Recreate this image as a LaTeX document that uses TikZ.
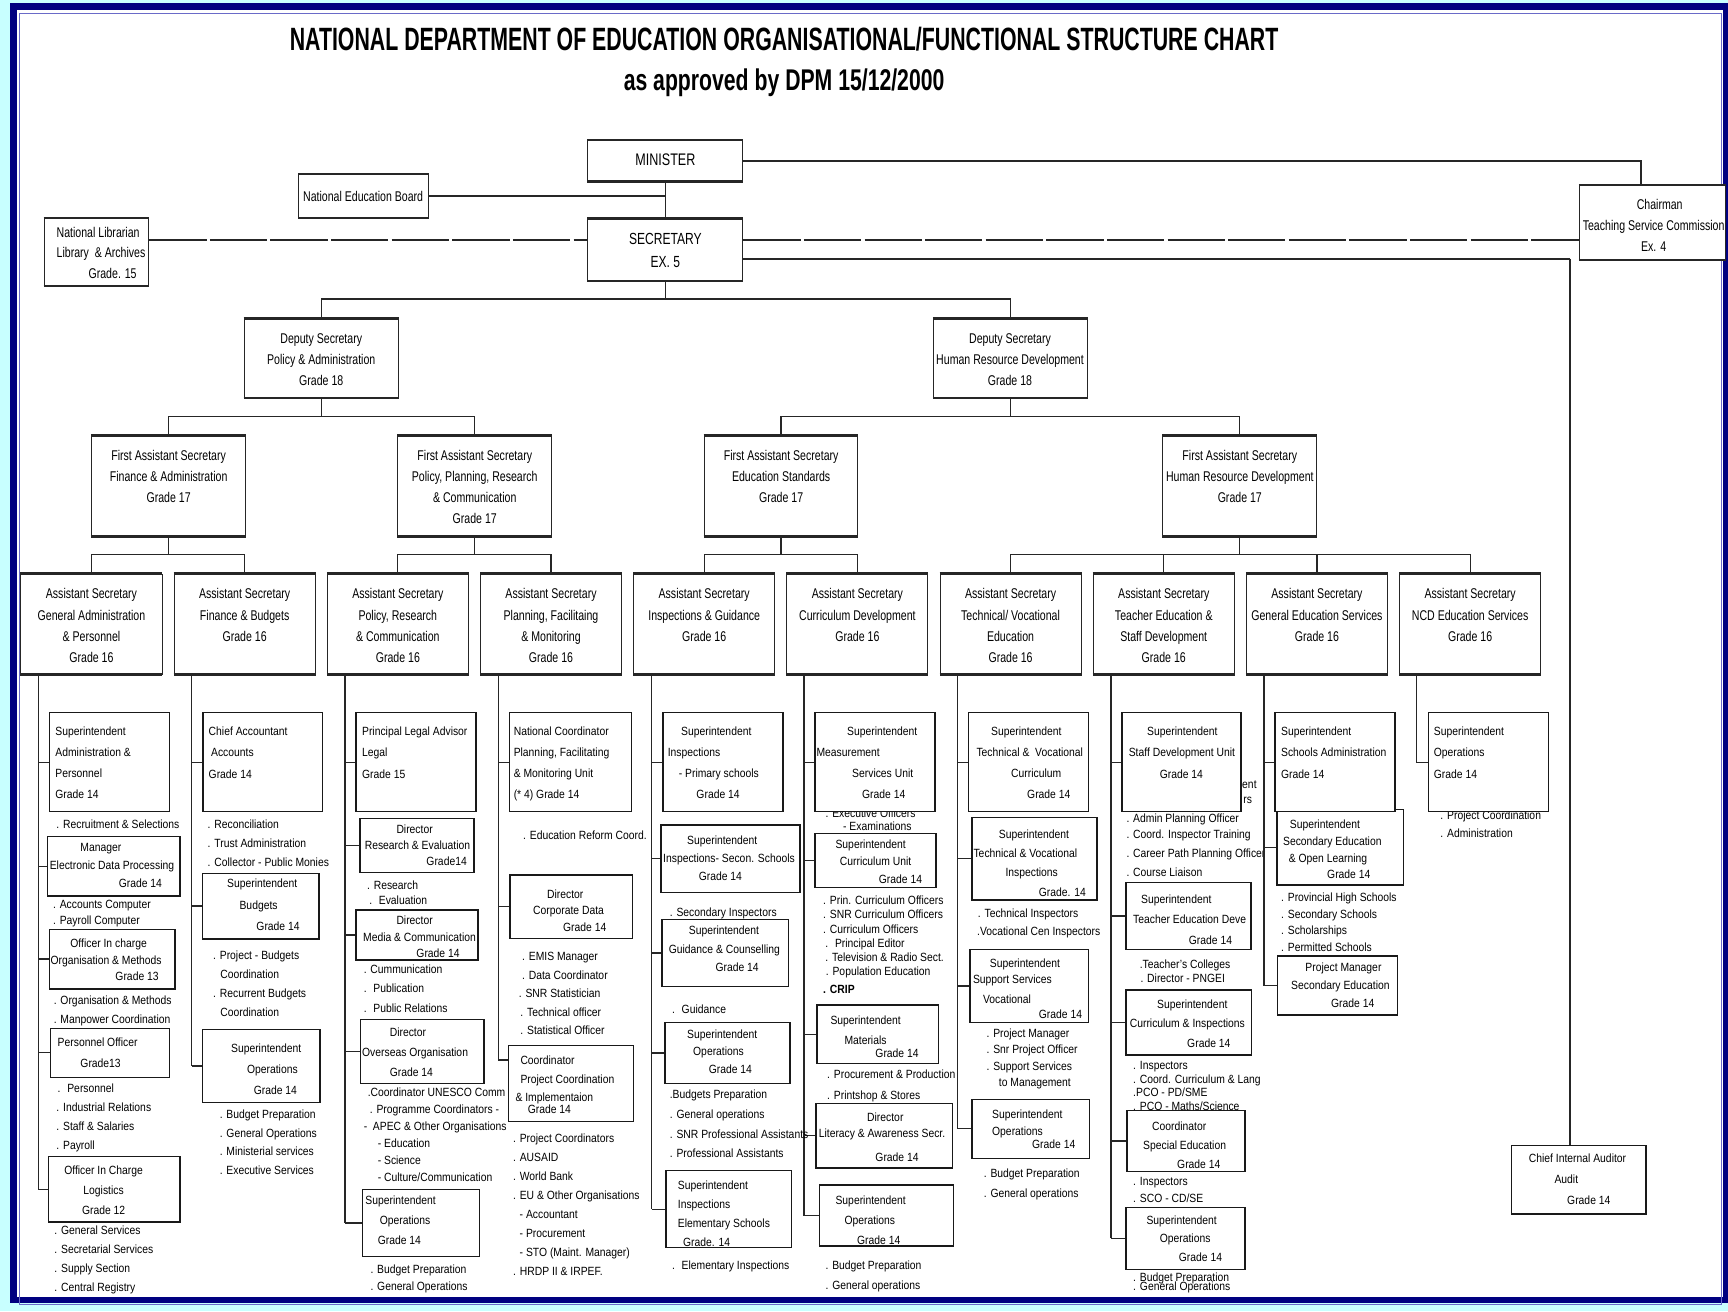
\documentclass[tikz,border=0pt]{standalone}
\usepackage{fontspec}
\setmainfont{Liberation Sans}[FakeStretch=0.87]
\newfontfamily\narrowf{Liberation Sans}[FakeStretch=0.75]
\usetikzlibrary{fit}
\definecolor{bgcyan}{HTML}{C8FFFF}
\definecolor{navy}{HTML}{000080}
\definecolor{frameblue}{HTML}{6A6AC8}
\tikzset{
  bx/.style={draw=black!90, fill=white, line width=0.7pt, inner sep=0pt},
  hb/.style={draw=black!85, fill=white, line width=0.45pt, inner sep=0pt},
  tl/.style={inner sep=0pt, anchor=north west, align=left, font=\fontsize{5.4}{#1}\selectfont},
  tc/.style={inner sep=0pt, anchor=north, align=center, font=\fontsize{5.4}{#1}\selectfont},
  ul/.style={inner sep=0pt, anchor=north west, align=left, font=\narrowf\fontsize{6.4}{#1}\selectfont},
  uc/.style={inner sep=0pt, anchor=north, align=center, font=\narrowf\fontsize{6.4}{#1}\selectfont},
  ln/.style={line width=0.55pt, draw=black!85},
  thk/.style={line width=1.1pt, draw=black!85},
  dsh/.style={line width=1pt, draw=black!85, dash pattern=on 26pt off 1.5pt},
  hedge/.style={line width=1.1pt, draw=black!85},
}
\begin{document}
\setlength{\lineskiplimit}{-20pt}
\begin{tikzpicture}[x=0.5pt,y=-0.5pt]
\useasboundingbox (0,0) rectangle (1568,1190);
% ---------- frame ----------
\fill[bgcyan] (0,0) rectangle (1568,1190);
\fill[white] (12,6) rectangle (1566,1180);
\draw[navy, line width=3pt] (12,6) rectangle (1566.5,1179.5);
\draw[frameblue, line width=0.5pt] (17.7,12) rectangle (1562,1184);
% ---------- title ----------
\node[anchor=base, inner sep=0pt] (title1) at (711.5,45.4) {\resizebox{448.5pt}{10.6pt}{\bfseries NATIONAL DEPARTMENT OF EDUCATION ORGANISATIONAL/FUNCTIONAL STRUCTURE CHART}};
\node[anchor=base, inner sep=0pt] (title2) at (711.5,81.7) {\resizebox{145.5pt}{9.85pt}{\bfseries as approved by DPM 15/12/2000}};
% ---------- texts partly hidden behind boxes ----------
\node[tl=5.75] (o61) at (748.7,734) {. Executive Officers\\\hspace*{8pt}- Examinations};
\node[tl=6.85] (f81) at (1126.8,708.4) {ent\\\hspace*{0.5pt}rs};
\node[tl=8.7] (l81) at (1021.8,737.7) {. Admin Planning Officer\\[-1.45pt]. Coord. Inspector Training\\. Career Path Planning Officer\\. Course Liaison};
\node[tl=8.15] (l101) at (1306.7,735.6) {. Project Coordination\\. Administration};
% ---------- upper boxes ----------
\node[hb, fit={(533.5,127.6) (674,164.2)}] (min) {};
\node[hb, fit={(271,158.2) (388.5,197.2)}] (neb) {};
\node[hb, fit={(533.5,198.7) (674,254.7)}] (sec) {};
\node[hb, fit={(40,198.1) (135,259.2)}] (nlib) {};
\node[hb, fit={(1433,168.5) (1566,235.6)}] (chair) {};
\node[hb, fit={(221.5,289.5) (361.5,360.9)}] (ds1) {};
\node[hb, fit={(847,289.5) (986.5,360.9)}] (ds2) {};
\node[hb, fit={(83,395.6) (223,486.4)}] (fas1) {};
\node[hb, fit={(361,395.6) (500.5,486.4)}] (fas2) {};
\node[hb, fit={(639,395.6) (778.5,486.4)}] (fas3) {};
\node[hb, fit={(1055,395.6) (1195,486.4)}] (fas4) {};
\node[hb, fit={(19,520.9) (147,611.6)}] (as1) {};
\node[hb, fit={(158,520.9) (286,611.6)}] (as2) {};
\node[hb, fit={(297,520.9) (425,611.6)}] (as3) {};
\node[hb, fit={(436,520.9) (564,611.6)}] (as4) {};
\node[hb, fit={(575,520.9) (703,611.6)}] (as5) {};
\node[hb, fit={(714,520.9) (842,611.6)}] (as6) {};
\node[hb, fit={(853,520.9) (981,611.6)}] (as7) {};
\node[hb, fit={(992,520.9) (1120,611.6)}] (as8) {};
\node[hb, fit={(1131,520.9) (1259,611.6)}] (as9) {};
\node[hb, fit={(1270,520.9) (1398,611.6)}] (as10) {};
\foreach \n in {min,neb,sec,nlib,chair,ds1,ds2,fas1,fas2,fas3,fas4,as1,as2,as3,as4,as5,as6,as7,as8,as9,as10}
  \draw[hedge] (\n.north west) -- (\n.north east) (\n.south west) -- (\n.south east);
% ---------- lower boxes ----------
\node[bx, fit={(44.8,646.7) (153.7,736.5)}] (b11) {};
\node[bx, fit={(43,759.2) (163.3,813)}] (b12) {};
\node[bx, fit={(44.8,843.3) (158.8,897.2)}] (b13) {};
\node[bx, fit={(46,933.1) (153.7,977.6)}] (b14) {};
\node[bx, fit={(44.2,1049.6) (163.3,1108.9)}] (b15) {};
\node[bx, fit={(184.2,646.7) (292.5,736.5)}] (b21) {};
\node[bx, fit={(183.6,792.5) (289.5,851.8)}] (b22) {};
\node[bx, fit={(183.6,934) (290.4,1000.6)}] (b23) {};
\node[bx, fit={(323,646.7) (432,736.5)}] (b31) {};
\node[bx, fit={(326.7,742.6) (430.1,791.9)}] (b32) {};
\node[bx, fit={(323,825.8) (433.8,871.1)}] (b33) {};
\node[bx, fit={(327.3,924.9) (439.2,983)}] (b34) {};
\node[bx, fit={(329.1,1079.2) (435,1140.3)}] (b35) {};
\node[bx, fit={(462.2,646.7) (573.2,736.5)}] (b41) {};
\node[bx, fit={(462.8,794) (574.1,851.5)}] (b42) {};
\node[bx, fit={(461.3,948.8) (574.7,1017.8)}] (b43) {};
\node[bx, fit={(601.4,646.7) (710.3,736.5)}] (b51) {};
\node[bx, fit={(599.6,748.6) (726,810)}] (b52) {};
\node[bx, fit={(600.5,834.2) (715.4,895.3)}] (b53) {};
\node[bx, fit={(603.5,928) (716.9,983)}] (b54) {};
\node[bx, fit={(604.4,1062.3) (718.4,1132)}] (b55) {};
\node[bx, fit={(739.6,646.7) (848.5,736.5)}] (b61) {};
\node[bx, fit={(739.6,756.2) (849.4,805.2)}] (b62) {};
\node[bx, fit={(741.1,911.9) (851.5,964.9)}] (b63) {};
\node[bx, fit={(740.5,1001.2) (864.5,1060)}] (b64) {};
\node[bx, fit={(743.5,1075.3) (865.1,1130.6)}] (b65) {};
\node[bx, fit={(878.7,646.7) (987.6,736.5)}] (b71) {};
\node[bx, fit={(881.8,741.6) (995.2,816.7)}] (b72) {};
\node[bx, fit={(880.2,861.4) (987.6,928)}] (b73) {};
\node[bx, fit={(881.8,997.5) (988.5,1051.1)}] (b74) {};
\node[bx, fit={(1017.9,646.7) (1126.2,736.5)}] (b81) {};
\node[bx, fit={(1021.8,800.9) (1135.2,861.4)}] (b82) {};
\node[bx, fit={(1021.8,898.4) (1135.8,957.3)}] (b83) {};
\node[bx, fit={(1022.4,1007.6) (1129.8,1063.2)}] (b84) {};
\node[bx, fit={(1021.8,1095.5) (1129.8,1151.8)}] (b85) {};
\node[bx, fit={(1158.5,734.4) (1273.4,803.1)}] (b92) {};
\node[bx, fit={(1157,646.7) (1265.9,736.5)}] (b91) {};
\node[bx, fit={(1159.1,867.5) (1268,921)}] (b93) {};
\node[bx, fit={(1296.1,646.7) (1405,736.5)}] (b101) {};
\node[bx, fit={(1371.7,1039.6) (1493.7,1101.6)}] (aud) {};
% ---------- upper connectors ----------
\draw[ln] (min.south) -- (sec.north);
\draw[thk] (neb.east) -- (neb.east -| min.south);
\coordinate (chv) at (1489,0);
\draw[thk] (min.east) -- (min.east -| chv) -- (chv |- chair.north);
\coordinate (dy) at (0,218);
\draw[dsh] (nlib.east |- dy) -- (sec.west |- dy);
\draw[dsh] (sec.east |- dy) -- (chair.west |- dy);
\coordinate (ay) at (1424.7,235);
\draw[thk] (sec.east |- ay) -- (ay);
\draw[ln] (ay) -- (ay |- aud.north);
\coordinate (y1) at (0,271.3);
\draw[ln] (sec.south) -- (sec.south |- y1);
\draw[ln] (ds1.north) -- (ds1.north |- y1) -- (ds2.north |- y1) -- (ds2.north);
\coordinate (y2) at (0,378.1);
\draw[ln] (ds1.south) -- (ds1.south |- y2);
\draw[ln] (fas1.north) -- (fas1.north |- y2) -- (fas2.north |- y2) -- (fas2.north);
\draw[ln] (ds2.south) -- (ds2.south |- y2);
\draw[ln] (fas3.north) -- (fas3.north |- y2) -- (fas4.north |- y2) -- (fas4.north);
\coordinate (y3) at (0,503.5);
\draw[ln] (fas1.south) -- (fas1.south |- y3);
\draw[ln] (as1.north) -- (as1.north |- y3) -- (as2.north |- y3) -- (as2.north);
\draw[ln] (fas2.south) -- (fas2.south |- y3);
\draw[ln] (as3.north) -- (as3.north |- y3) -- (as4.north |- y3) -- (as4.north);
\draw[ln] (fas3.south) -- (fas3.south |- y3);
\draw[ln] (as5.north) -- (as5.north |- y3) -- (as6.north |- y3) -- (as6.north);
\draw[ln] (fas4.south) -- (fas4.south |- y3);
\draw[ln] (as7.north) -- (as7.north |- y3) -- (as10.north |- y3) -- (as10.north);
\draw[ln] (as8.north) -- (as8.north |- y3);
\draw[ln] (as9.north) -- (as9.north |- y3);
% ---------- trunks ----------
\coordinate (t1) at (34.8,0);
\coordinate (t2) at (173.9,0);
\coordinate (t3) at (313.1,0);
\coordinate (t4) at (452.2,0);
\coordinate (t5) at (591.4,0);
\coordinate (t6) at (729.6,0);
\coordinate (t7) at (868.8,0);
\coordinate (t8) at (1008.2,0);
\coordinate (t9) at (1147,0);
\coordinate (t10) at (1285.5,0);
\draw[ln] (as1.south -| t1) -- (t1 |- b15.west);
\foreach \b in {b11,b12,b13,b14,b15} \draw[ln] (t1 |- \b.west) -- (\b.west);
\draw[ln] (as2.south -| t2) -- (t2 |- b23.west);
\foreach \b in {b21,b22,b23} \draw[ln] (t2 |- \b.west) -- (\b.west);
\draw[ln] (as3.south -| t3) -- (t3 |- b35.west);
\foreach \b in {b31,b32,b33,b34,b35} \draw[ln] (t3 |- \b.west) -- (\b.west);
\coordinate (c4) at (452.2,961.8);
\draw[ln] (as4.south -| t4) -- (c4) -- (c4 -| b43.west);
\foreach \b in {b41,b42} \draw[ln] (t4 |- \b.west) -- (\b.west);
\draw[ln] (as5.south -| t5) -- (t5 |- b55.west);
\foreach \b in {b51,b52,b53,b54,b55} \draw[ln] (t5 |- \b.west) -- (\b.west);
\draw[ln] (as6.south -| t6) -- (t6 |- b65.west);
\foreach \b in {b61,b62,b63,b64,b65} \draw[ln] (t6 |- \b.west) -- (\b.west);
\draw[ln] (as7.south -| t7) -- (t7 |- b74.west);
\foreach \b in {b71,b72,b73,b74} \draw[ln] (t7 |- \b.west) -- (\b.west);
\draw[ln] (as8.south -| t8) -- (t8 |- b85.west);
\foreach \b in {b81,b82,b83,b84,b85} \draw[ln] (t8 |- \b.west) -- (\b.west);
\draw[ln] (as9.south -| t9) -- (t9 |- b93.west);
\foreach \b in {b91,b92,b93} \draw[ln] (t9 |- \b.west) -- (\b.west);
\draw[ln] (as10.south -| t10) -- (t10 |- b101.west) -- (b101.west);
% ---------- upper texts ----------
\node[inner sep=0pt, font=\narrowf\fontsize{7.6}{9}\selectfont] (mint) at (603.75,145.2) {MINISTER};
\node[uc=10.5, font=\narrowf\fontsize{7.3}{10.5}\selectfont] (sect) at (603.75,211) {SECRETARY\\EX. 5};
\node[inner sep=0pt, font=\narrowf\fontsize{6.4}{8}\selectfont] (nebt) at (329.5,178.5) {National Education Board};
\node[ul=9.3] (nlibt) at (51,205.6) {National Librarian\\Library\ \ \& Archives\\\hspace*{14.5pt}Grade. 15};
\node[uc=9.6] (chairt) at (1500.5,180.4) {\hspace*{5.5pt}Chairman\\Teaching Service Commission\\Ex. 4};
\node[uc=9.5] (ds1t) at (291.5,302.4) {Deputy Secretary\\Policy \& Administration\\Grade 18};
\node[uc=9.5] (ds2t) at (916.5,302.4) {Deputy Secretary\\Human Resource Development\\Grade 18};
\node[uc=9.5] (fas1t) at (153,408.3) {First Assistant Secretary\\Finance \& Administration\\Grade 17};
\node[uc=9.5] (fas2t) at (430.8,408.3) {First Assistant Secretary\\Policy, Planning, Research\\\& Communication\\Grade 17};
\node[uc=9.5] (fas3t) at (708.8,408.3) {First Assistant Secretary\\Education Standards\\Grade 17};
\node[uc=9.5] (fas4t) at (1125,408.3) {First Assistant Secretary\\Human Resource Development\\Grade 17};
\node[uc=9.6] (as1t) at (83,533.8) {Assistant Secretary\\General Administration\\\& Personnel\\Grade 16};
\node[uc=9.6] (as2t) at (222,533.8) {Assistant Secretary\\Finance \& Budgets\\Grade 16};
\node[uc=9.6] (as3t) at (361,533.8) {Assistant Secretary\\Policy, Research\\\& Communication\\Grade 16};
\node[uc=9.6] (as4t) at (500,533.8) {Assistant Secretary\\Planning, Facilitaing\\\& Monitoring\\Grade 16};
\node[uc=9.6] (as5t) at (639,533.8) {Assistant Secretary\\Inspections \& Guidance\\Grade 16};
\node[uc=9.6] (as6t) at (778,533.8) {Assistant Secretary\\Curriculum Development\\Grade 16};
\node[uc=9.6] (as7t) at (917,533.8) {Assistant Secretary\\Technical/ Vocational\\Education\\Grade 16};
\node[uc=9.6] (as8t) at (1056,533.8) {Assistant Secretary\\Teacher Education \&\\Staff Development\\Grade 16};
\node[uc=9.6] (as9t) at (1195,533.8) {Assistant Secretary\\General Education Services\\Grade 16};
\node[uc=9.6] (as10t) at (1334,533.8) {Assistant Secretary\\NCD Education Services\\Grade 16};
% ---------- column 1 ----------
\node[tl=9.6] (b11t) at (49.9,659.1) {Superintendent\\Administration \&\\Personnel\\Grade 14};
\node[tl=8] (l11) at (50.8,743.8) {. Recruitment \& Selections};
\node[tl=8.2] (b12t) at (44.8,764.4) {\hspace*{13.9pt}Manager\\Electronic Data Processing\\\hspace*{31.3pt}Grade 14};
\node[tl=7.25] (l12) at (47.8,816.4) {. Accounts Computer\\. Payroll Computer};
\node[tl=7.6] (b13t) at (45.5,851.5) {\hspace*{9pt}Officer In charge\\Organisation \& Methods\\\hspace*{29.45pt}Grade 13};
\node[tl=8.3] (l13) at (48.4,903.5) {. Organisation \& Methods\\. Manpower Coordination};
\node[tl=9.5] (b14t) at (52,941.3) {Personnel Officer\\\hspace*{10.3pt}Grade13};
\node[tl=8.7] (l14) at (50.8,982.8) {\hspace*{0.6pt}. \ Personnel\\. Industrial Relations\\. Staff \& Salaries\\. Payroll};
\node[tc=9.25] (b15t) at (94,1057.1) {Officer In Charge\\Logistics\\Grade 12};
\node[tl=8.75] (l15) at (49,1111.6) {. General Services\\. Secretarial Services\\. Supply Section\\. Central Registry};
% ---------- column 2 ----------
\node[tl=9.7] (b21t) at (189,659.1) {Chief Accountant\\\hspace*{1.1pt}Accounts\\Grade 14};
\node[tl=8.7] (l21) at (188.1,743.1) {. Reconciliation\\. Trust Administration\\. Collector - Public Monies};
\node[tl=9.8] (b22t) at (205.7,797.1) {Superintendent\\\hspace*{5.65pt}Budgets\\\hspace*{13.3pt}Grade 14};
\node[tl=8.6] (l22) at (193,862.7) {. Project - Budgets\\\hspace*{3.3pt}Coordination\\. Recurrent Budgets\\\hspace*{3.3pt}Coordination};
\node[tl=9.6] (b23t) at (209.3,946.8) {Superintendent\\\hspace*{7.25pt}Operations\\\hspace*{10.3pt}Grade 14};
\node[tl=8.6] (l23) at (199,1006.3) {. Budget Preparation\\. General Operations\\. Ministerial services\\. Executive Services};
% ---------- column 3 ----------
\node[tl=9.7] (b31t) at (328.2,659.1) {Principal Legal Advisor\\Legal\\Grade 15};
\node[tl=7.35] (b32t) at (330.6,747.8) {\hspace*{14.4pt}Director\\Research \& Evaluation\\\hspace*{28pt}Grade14};
\node[tl=6.8] (l32) at (332.7,799.2) {. Research\\\hspace*{1pt}. \ Evaluation};
\node[tl=7.5] (b33t) at (329.1,830.9) {\hspace*{15.15pt}Director\\Media \& Communication\\\hspace*{24.2pt}Grade 14};
\node[tl=9] (l33) at (329.7,874.8) {. Cummunication\\. \ Publication\\. \ Public Relations};
\node[tl=9.1] (b34t) at (328.2,932.2) {\hspace*{12.55pt}Director\\Overseas Organisation\\\hspace*{12.55pt}Grade 14};
\node[tl=7.7] (l34) at (329.7,986.7) {\hspace*{1.85pt}.Coordinator UNESCO Comm\\\hspace*{2.75pt}. Programme Coordinators -\\- \ APEC \& Other Organisations\\\hspace*{6.35pt}- Education\\\hspace*{6.35pt}- Science\\\hspace*{6.35pt}- Culture/Communication};
\node[tl=9.1] (b35t) at (331.2,1085) {Superintendent\\\hspace*{6.5pt}Operations\\\hspace*{5.6pt}Grade 14};
\node[tl=7.85] (l35) at (335.8,1147) {. Budget Preparation\\. General Operations};
% ---------- column 4 ----------
\node[tl=9.6] (b41t) at (465.8,659.1) {National Coordinator\\Planning, Facilitating\\\& Monitoring Unit\\(* 4) Grade 14};
\node[tl=8] (l41) at (474.3,753.8) {. Education Reform Coord.};
\node[tl=7.6] (b42t) at (483.4,806.7) {\hspace*{6.35pt}Director\\Corporate Data\\\hspace*{13.6pt}Grade 14};
\node[tl=8.4] (l42) at (470.4,863.6) {\hspace*{1.5pt}. EMIS Manager\\\hspace*{1.5pt}. Data Coordinator\\. SNR Statistician\\\hspace*{0.7pt}. Technical officer\\\hspace*{0.7pt}. Statistical Officer};
\node[tl=8.3] (b43t) at (467.4,957.9) {\hspace*{2.25pt}Coordinator\\\hspace*{2.25pt}Project Coordination\\\& Implementaion\\[-3pt]\hspace*{5.55pt}Grade 14};
\node[tl=8.65] (l43) at (465.2,1028.1) {. Project Coordinators\\. AUSAID\\. World Bank\\. EU \& Other Organisations\\\hspace*{3pt}- Accountant\\\hspace*{3pt}- Procurement\\\hspace*{3pt}- STO (Maint. Manager)\\. HRDP II \& IRPEF.};
% ---------- column 5 ----------
\node[tl=9.6] (b51t) at (605.6,659.1) {\hspace*{6.05pt}Superintendent\\Inspections\\\hspace*{5pt}- Primary schools\\\hspace*{13pt}Grade 14};
\node[tl=8.2] (b52t) at (601.4,758.3) {\hspace*{10.85pt}Superintendent\\Inspections- Secon. Schools\\\hspace*{16.15pt}Grade 14};
\node[tl=8] (l52) at (607.4,823.4) {. Secondary Inspectors};
\node[tl=8.35] (b53t) at (606.5,840) {\hspace*{9.1pt}Superintendent\\Guidance \& Counselling\\\hspace*{21.2pt}Grade 14};
\node[tl=8] (l53) at (609.5,911.1) {. \ Guidance};
\node[tl=8] (b54t) at (623.1,933.7) {Superintendent\\\hspace*{2.75pt}Operations\\\hspace*{9.85pt}Grade 14};
\node[tl=9.05] (l54) at (607.4,988.2) {.Budgets Preparation\\. General operations\\. SNR Professional Assistants\\. Professional Assistants};
\node[tl=8.6] (b55t) at (614.7,1071.4) {Superintendent\\Inspections\\Elementary Schools\\\hspace*{2.4pt}Grade. 14};
\node[tl=8] (l55) at (609.5,1144) {. \ Elementary Inspections};
% ---------- column 6 ----------
\node[tl=9.6] (b61t) at (740.5,659.1) {\hspace*{13.9pt}Superintendent\\Measurement\\\hspace*{16.2pt}Services Unit\\\hspace*{20.7pt}Grade 14};
\node[tl=7.75] (b62t) at (757.8,762) {Superintendent\\\hspace*{1.95pt}Curriculum Unit\\\hspace*{19.65pt}Grade 14};
\node[tl=6.4] (l62) at (746.6,812.8) {. Prin. Curriculum Officers\\. SNR Curriculum Officers\\. Curriculum Officers\\\hspace*{1pt}. \ Principal Editor\\\hspace*{1pt}. Television \& Radio Sect.\\\hspace*{1.2pt}. Population Education\\[2pt]\bfseries . CRIP};
\node[tl=8.8] (b63t) at (753.2,921.6) {Superintendent\\\hspace*{6.35pt}Materials\\[-2.8pt]\hspace*{20.4pt}Grade 14};
\node[tl=9.2] (l63) at (750.2,970.7) {. Procurement \& Production\\. Printshop \& Stores};
\node[tl=7.25] (b64t) at (742.6,1009.4) {\hspace*{21.95pt}Director\\Literacy \& Awareness Secr.\\[3.65pt]\hspace*{25.7pt}Grade 14};
\node[tl=9.1] (b65t) at (757.8,1085) {Superintendent\\\hspace*{4.05pt}Operations\\\hspace*{9.8pt}Grade 14};
\node[tl=9.05] (l65) at (748.7,1144) {. Budget Preparation\\. General operations};
% ---------- column 7 ----------
\node[tl=9.6] (b71t) at (885.7,659.1) {\hspace*{6.65pt}Superintendent\\Technical \& \ Vocational\\\hspace*{15.75pt}Curriculum\\\hspace*{23pt}Grade 14};
\node[tl=8.8] (b72t) at (883,752.3) {\hspace*{11.5pt}Superintendent\\Technical \& Vocational\\\hspace*{14.5pt}Inspections\\\hspace*{29.6pt}Grade. 14};
\node[tl=8.15] (l72) at (886.3,824.3) {\hspace*{0.3pt}. Technical Inspectors\\.Vocational Cen Inspectors};
\node[tl=7.3] (b73t) at (882.5,869.7) {\hspace*{7.65pt}Superintendent\\Support Services\\[1.8pt]\hspace*{4.6pt}Vocational\\[-0.8pt]\hspace*{29.9pt}Grade 14};
\node[tl=7.4] (l73) at (894.8,933.1) {. Project Manager\\. Snr Project Officer\\. Support Services\\\hspace*{5.6pt}to Management};
\node[tl=7.55] (b74t) at (899.9,1007) {Superintendent\\Operations\\[-1.8pt]\hspace*{18.15pt}Grade 14};
\node[tl=9.05] (l74) at (892.3,1060.2) {. Budget Preparation\\. General operations};
% ---------- column 8 ----------
\node[tl=9.7] (b81t) at (1023.9,659.1) {\hspace*{8.35pt}Superintendent\\Staff Development Unit\\\hspace*{14.05pt}Grade 14};
\node[tl=9.3] (b82t) at (1027.9,811.3) {\hspace*{3.6pt}Superintendent\\Teacher Education Deve\\\hspace*{25.25pt}Grade 14};
\node[tl=6.35] (l82) at (1033.9,870.2) {.Teacher's Colleges\\\hspace*{0.3pt}. Director - PNGEI};
\node[tl=8.9] (b83t) at (1024.8,906.6) {\hspace*{12.4pt}Superintendent\\Curriculum \& Inspections\\\hspace*{26.05pt}Grade 14};
\node[tl=6.2] (l83) at (1027.9,962.5) {. Inspectors\\. Coord. Curriculum \& Lang\\.PCO - PD/SME\\. PCO - Maths/Science};
\node[tl=8.7] (b84t) at (1036.9,1017.4) {\hspace*{4.1pt}Coordinator\\Special Education\\\hspace*{15.45pt}Grade 14};
\node[tl=7.6] (l84) at (1027.9,1068.3) {. Inspectors\\. SCO - CD/SE};
\node[tl=8.5] (b85t) at (1040,1102.5) {Superintendent\\\hspace*{6pt}Operations\\\hspace*{14.65pt}Grade 14};
\node[tl=4.25] (l85) at (1027.9,1154.6) {. Budget Preparation\\. General Operations};
% ---------- column 9 ----------
\node[tl=9.7] (b91t) at (1162.1,659.1) {Superintendent\\Schools Administration\\Grade 14};
\node[tl=7.55] (b92t) at (1163.9,743.8) {\hspace*{3.05pt}Superintendent\\Secondary Education\\\hspace*{2.6pt}\& Open Learning\\\hspace*{20pt}Grade 14};
\node[tl=7.55] (l92) at (1162.1,809.8) {. Provincial High Schools\\. Secondary Schools\\. Scholarships\\. Permitted Schools};
\node[tl=8.15] (b93t) at (1171.2,873.3) {\hspace*{6.5pt}Project Manager\\Secondary Education\\\hspace*{18.15pt}Grade 14};
% ---------- column 10 and audit ----------
\node[tl=9.7] (b101t) at (1300.7,659.1) {Superintendent\\Operations\\Grade 14};
\node[tl=9.5] (audt) at (1386.9,1046.3) {Chief Internal Auditor\\\hspace*{11.65pt}Audit\\\hspace*{17.4pt}Grade 14};
\end{tikzpicture}
\end{document}
